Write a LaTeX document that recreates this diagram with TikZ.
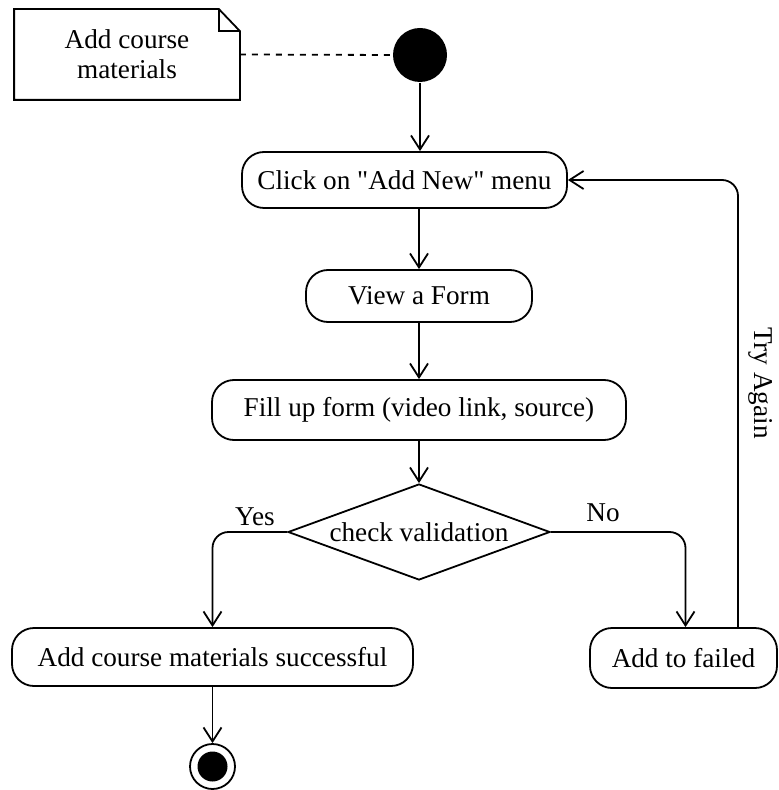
\documentclass[tikz,border=0pt]{standalone}
\usepackage{fontspec}
\setmainfont{Liberation Serif}[Ligatures=TeXOff]
\usetikzlibrary{shapes.geometric,arrows.meta}

\def\boxh{28pt}

\begin{document}
\begin{tikzpicture}[x=0.5pt,y=-0.5pt,line width=0.9pt,
  font=\fontsize{13.6}{15.5}\selectfont]
  \tikzstyle{flow}=[-{Straight Barb[length=7pt,width=9pt]}]
  \tikzstyle{action}=[draw,rounded corners=11pt,minimum height=\boxh,inner sep=0pt]
  \tikzstyle{decision}=[draw,diamond,aspect=2.7,inner sep=0pt,minimum width=131pt,minimum height=48pt]
  \tikzstyle{annot}=[inner sep=0pt]

  \useasboundingbox (0,0) rectangle (779,790);

  % Draw the note and the initial node
  \node[annot, minimum width=112pt, minimum height=44.5pt, align=center] (note) at (127,54.5)
    {Add course\\[-0.5pt]materials};
  \draw (note.north west) -- ([xshift=-10.5pt]note.north east)
    -- ([yshift=-11pt]note.north east) -- (note.south east)
    -- (note.south west) -- cycle;
  \draw ([xshift=-10.5pt]note.north east) |- ([yshift=-11pt]note.north east);
  \node[circle, fill=black, minimum size=27pt, inner sep=0pt] (start) at (420,55) {};
  \draw[dashed] (note.east) -- (start.west);

  % Draw the actions
  \node[action, minimum width=162.5pt] (click) at (404.5,180) {Click on "Add New" menu};
  \node[action, minimum width=113pt, minimum height=26pt] (view) at (419,296) {View a Form};
  \node[action, minimum width=207pt, minimum height=30pt] (fill) at (419,410) {Fill up form (video link, source)};
  \node[decision] (check) at (419,532) {check validation};
  \node[action, minimum width=200.5pt, minimum height=29pt] (done) at (212.5,657) {Add course materials successful};
  \node[action, minimum width=93.5pt, minimum height=30pt] (failed) at (683.5,658) {Add to failed};

  % Draw the final node
  \node[circle, draw, minimum size=22.5pt, inner sep=0pt] (final) at (212.5,766.5) {};
  \node[circle, fill=black, minimum size=15pt, inner sep=0pt] at (final) {};
  \coordinate (loop) at (738,181);

  % Connect nodes
  \draw[flow] (start) -- (start |- click.north);
  \draw[flow] (click.south -| view) -- (view);
  \draw[flow] (view) -- (fill);
  \draw[flow] (fill) -- (check);
  \draw[flow, rounded corners=8pt] (check.west) -| (done.north);
  \draw[flow, rounded corners=8pt] (check.east) -| ([xshift=1pt]failed.north);
  \draw[flow, rounded corners=8pt] (failed.north -| loop) |- (click.east);
  \draw[flow] (done) -- (final);

  % Labels
  \node[annot] (yes) at (255,517) {Yes};
  \node[annot] (no) at (603,513) {No};
  \node[annot, rotate=-90] (try) at (761,383) {Try Again};
\end{tikzpicture}
\end{document}
